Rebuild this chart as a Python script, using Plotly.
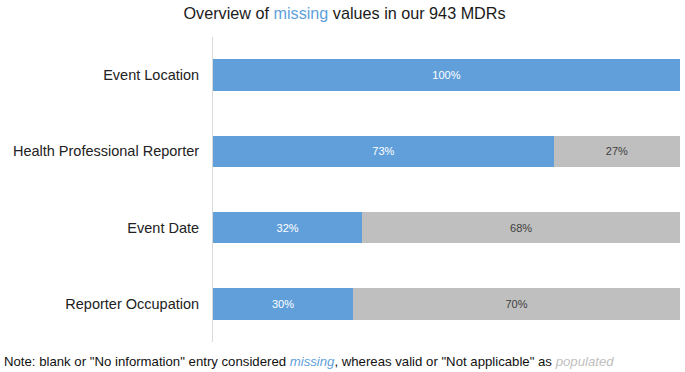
import plotly.graph_objects as go

categories = ["Event Location", "Health Professional Reporter", "Event Date", "Reporter Occupation"]
missing = [100, 73, 32, 30]
populated = [0, 27, 68, 70]

BLUE = "#619FDB"
GRAY = "#BFBFBF"
FONT = "Liberation Sans"

fig = go.Figure()
fig.add_trace(go.Bar(
    y=categories, x=missing, orientation="h", name="missing",
    marker=dict(color=BLUE, line=dict(width=0)),
    text=[f"{v}%" for v in missing], textposition="inside", insidetextanchor="middle",
    textfont=dict(color="white", size=11, family=FONT),
    hoverinfo="skip",
))
fig.add_trace(go.Bar(
    y=categories, x=populated, orientation="h", name="populated",
    marker=dict(color=GRAY, line=dict(width=0)),
    text=[f"{v}%" if v > 0 else "" for v in populated], textposition="inside", insidetextanchor="middle",
    textfont=dict(color="#404040", size=11, family=FONT),
    hoverinfo="skip",
))

fig.update_layout(
    barmode="stack",
    bargap=0.59,
    width=685, height=372,
    margin=dict(l=213, r=5, t=37, b=30),
    paper_bgcolor="white", plot_bgcolor="white",
    showlegend=False,
    font=dict(family=FONT, color="#222222"),
    title=dict(
        text="Overview of <span style='color:#619FDB'>missing</span> values in our 943 MDRs",
        x=0.503, xanchor="center", y=0.965, yanchor="middle",
        font=dict(size=16.2, color="#1a1a1a", family=FONT),
    ),
    xaxis=dict(range=[0, 100], visible=False, fixedrange=True),
    yaxis=dict(
        autorange="reversed", showgrid=False, showline=True, linecolor="#D9D9D9", linewidth=1,
        ticks="", tickfont=dict(size=14.5, color="#222222", family=FONT), ticklabelstandoff=10,
        automargin=False, fixedrange=True,
    ),
    annotations=[dict(
        text="Note: blank or \"No information\" entry considered <i><span style='color:#619FDB'>missing</span></i>, whereas valid or \"Not applicable\" as <i><span style='color:#BFBFBF'>populated</span></i>",
        xref="paper", yref="paper", x=-211/467, y=-0.065, xanchor="left", yanchor="middle",
        showarrow=False, font=dict(size=13.2, color="#111111", family=FONT),
    )],
)

fig.write_html("out.html", config={"displayModeBar": False},
               post_script="document.body.style.margin='0px';")
